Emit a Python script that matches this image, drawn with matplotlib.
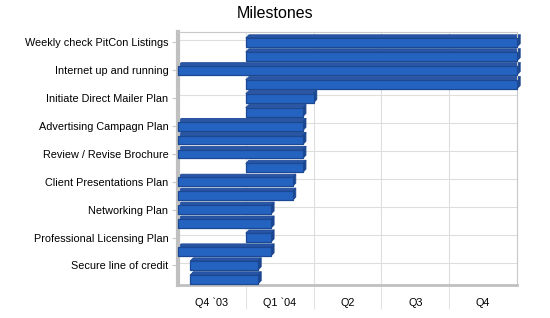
import numpy as np
import matplotlib
matplotlib.use("Agg")
from matplotlib import pyplot as plt
from matplotlib.collections import PolyCollection

# labels shown on the y axis (one every two rows)
labels = ["Weekly check PitCon Listings", "Internet up and running",
          "Initiate Direct Mailer Plan", "Advertising Campagn Plan",
          "Review / Revise Brochure", "Client Presentations Plan",
          "Networking Plan", "Professional Licensing Plan",
          "Secure line of credit"]

quarters = ["Q4 `03", "Q1 `04", "Q2", "Q3", "Q4"]

# start / end of each task, in quarters from 1 Oct 2003 (top to bottom)
starts = [1.0, 1.0, 0.0, 1.0, 1.0, 1.0, 0.0, 0.0, 0.0,
          1.0, 0.0, 0.0, 0.0, 0.0, 1.0, 0.0, 0.18, 0.18]
ends = [5.0, 5.0, 5.0, 5.0, 2.0, 1.84, 1.84, 1.84, 1.84,
        1.84, 1.69, 1.69, 1.37, 1.37, 1.37, 1.37, 1.18, 1.18]

rows = np.arange(len(starts))
starts = np.array(starts)
ends = np.array(ends)

fig = plt.figure(figsize=(5.5, 3.18), dpi=100)
ax = fig.add_axes([178/550, 1-285/318, 339/550, 253/318])

h = 0.64
ax.barh(rows, ends - starts, left=starts, height=h,
        color="#2563c1", edgecolor="#1b4892", linewidth=0.9, zorder=3, clip_on=False)

# 3d look: top face and right side of every bar
dx = 3.2 / 339 * 5
dy = 3.2 / 14
tops = []
sides = []
for s, e, r in zip(starts, ends, rows):
    yt = r - h / 2
    yb = r + h / 2
    tops.append([(s, yt), (s + dx, yt - dy), (e + dx, yt - dy), (e, yt)])
    sides.append([(e, yt), (e + dx, yt - dy), (e + dx, yb - dy), (e, yb)])
ax.add_collection(PolyCollection(tops, facecolor="#2a56a8", edgecolor="#1b4892",
                                 linewidth=0.6, zorder=2, clip_on=False))
ax.add_collection(PolyCollection(sides, facecolor="#1c468f", edgecolor="#1b4892",
                                 linewidth=0.6, zorder=2, clip_on=False))

ax.set_xlim(0, 5)
ax.set_ylim(17.4, -0.75)

ax.set_yticks(rows[::2])
ax.set_yticklabels(labels, fontsize=7.8, family="Liberation Sans")
ax.tick_params(axis="y", length=4, color="#c8c8c8", pad=3)

ax.set_xticks(np.arange(5) + 0.5)
ax.set_xticklabels(quarters, fontsize=7.8, family="Liberation Sans")
ax.set_xticks(np.arange(1, 5), minor=True)
ax.tick_params(axis="x", which="major", length=0, pad=9)
ax.tick_params(axis="x", which="minor", length=17, color="#dcdcdc")

# grid
for q in range(1, 5):
    ax.axvline(q, color="#dedede", lw=0.8, zorder=0)
for r in rows[::2]:
    ax.axhline(r - 0.2, color="#dedede", lw=0.8, zorder=0)

for s in ["top", "right"]:
    ax.spines[s].set_color("#c8c8c8")
    ax.spines[s].set_linewidth(0.8)
ax.spines["left"].set_color("#c0c0c0")
ax.spines["left"].set_linewidth(3)
ax.spines["bottom"].set_color("#c0c0c0")
ax.spines["bottom"].set_linewidth(2)

fig.text(0.5, 1 - 13/318, "Milestones", ha="center", va="center",
         fontsize=11.5, family="Liberation Sans")

plt.savefig("out.png", dpi=100)
